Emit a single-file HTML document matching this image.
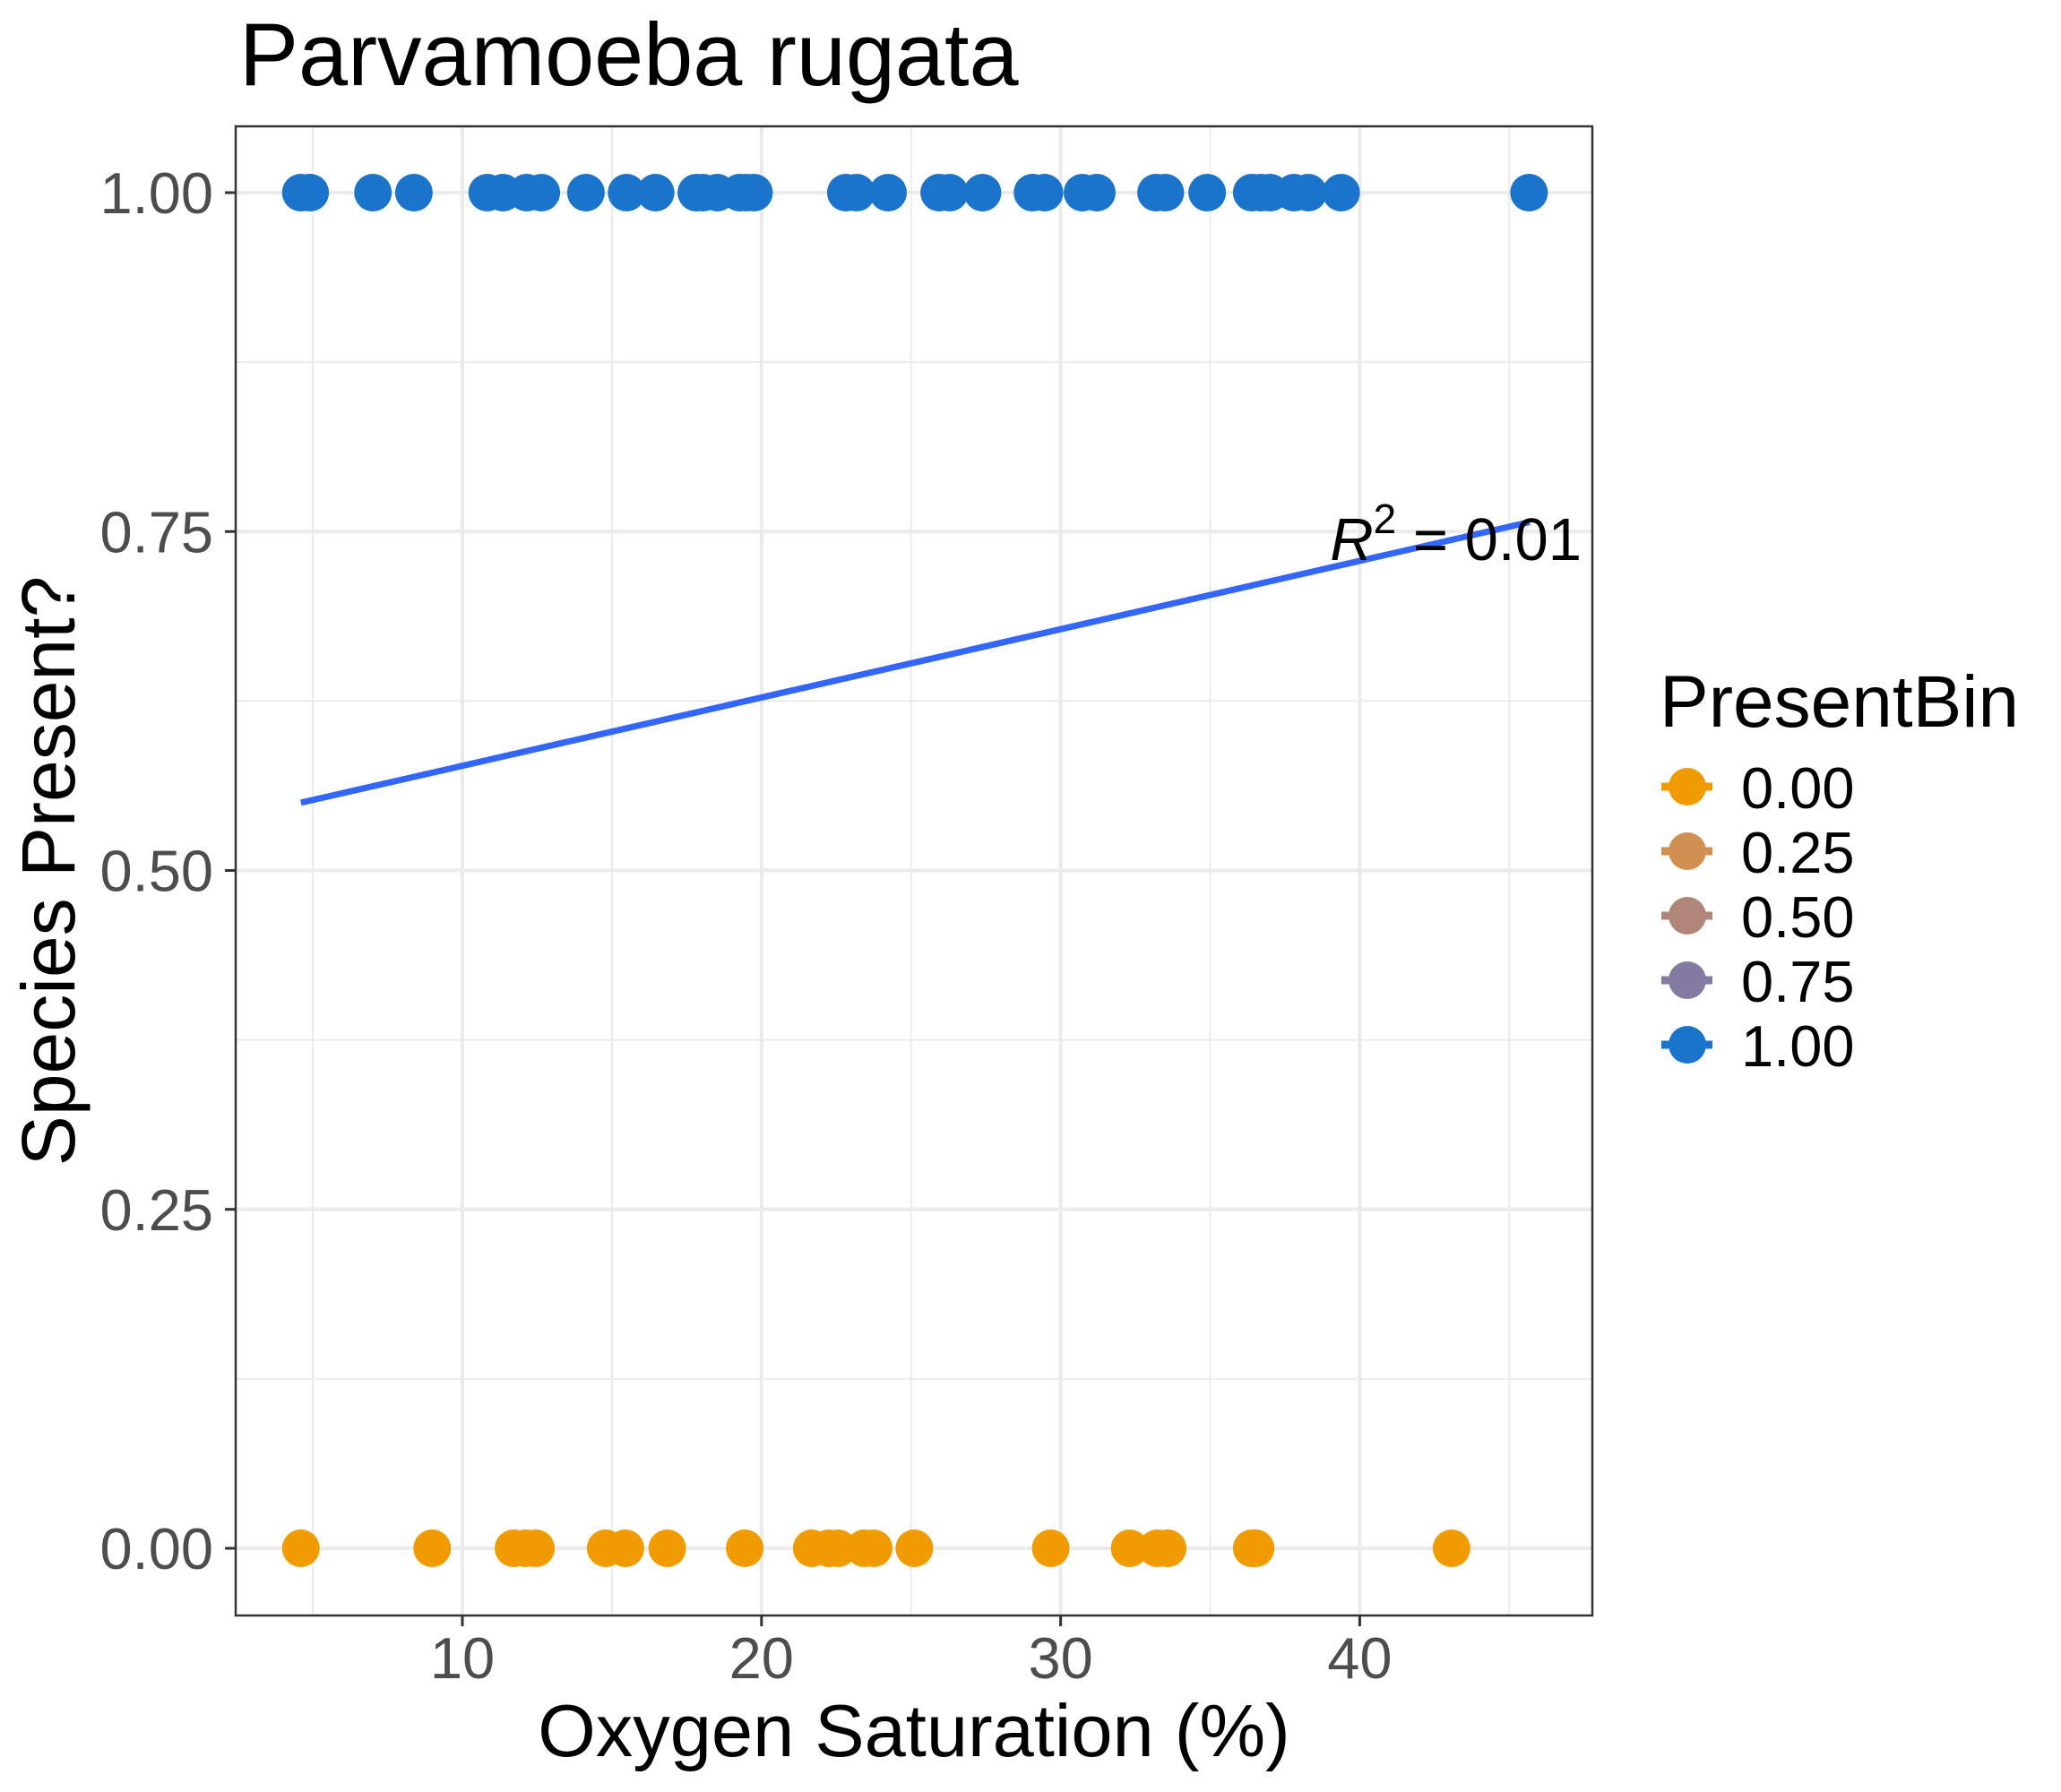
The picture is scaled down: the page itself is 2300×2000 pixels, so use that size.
<!DOCTYPE html>
<html><head><meta charset="utf-8"><style>
html,body{margin:0;padding:0;background:#fff;}
svg{display:block;font-family:"Liberation Sans",Arial,sans-serif;}
</style></head><body>
<svg id="chart" width="2300" height="2000" viewBox="0 0 2300 2000" xmlns="http://www.w3.org/2000/svg">
<rect x="0" y="0" width="2300" height="2000" fill="#fff"/>
<text x="267" y="95" font-size="99" fill="#000">Parvamoeba rugata</text>
<g id="grid"></g>
<g id="marks"></g>
<rect x="263" y="141" width="1514" height="1662" fill="none" stroke="#333" stroke-width="2.5"/>
<g id="axes"></g>
<text x="1020" y="1960" font-size="83" text-anchor="middle" fill="#000">Oxygen Saturation (%)</text>
<text transform="translate(83,972) rotate(-90)" font-size="84" text-anchor="middle" fill="#000">Species Present?</text>
<text x="1765" y="625" font-size="67" text-anchor="end" fill="#000"><tspan font-style="italic">R</tspan><tspan font-size="46" dy="-30">2</tspan><tspan dy="30"> = 0.01</tspan></text>
<g id="legend">
<text x="1852" y="811" font-size="82" fill="#000">PresentBin</text>
</g>
</svg>
<script>
const blueX = [4.60,4.91,7.01,8.38,10.83,11.36,12.15,12.64,14.13,15.49,16.46,17.82,18.04,18.52,19.27,19.49,19.75,22.82,23.18,24.23,25.94,26.29,27.39,29.06,29.46,30.73,31.21,33.19,33.50,34.90,36.39,36.70,37.01,37.80,38.28,39.38,45.66];
const orangeX = [4.60,8.99,11.71,12.11,12.46,14.79,15.45,16.85,19.44,21.68,22.25,22.56,23.44,23.75,25.11,29.67,32.31,33.23,33.58,36.39,36.52,43.07];
const fitX = [4.6,45.68];
const fitY = [0.55,0.757];
const xTicks = [10,20,30,40];
const xMinor = [5,15,25,35,45];
const yTicks = [0,0.25,0.5,0.75,1];
const yTickLabels = ["0.00","0.25","0.50","0.75","1.00"];
const yMinor = [0.125,0.375,0.625,0.875];
const legendLabels = ["0.00","0.25","0.50","0.75","1.00"];
const legendColors = ["#F09C00","#D18F52","#B0867A","#837BA1","#1A74CC"];

const NS="http://www.w3.org/2000/svg";
const L=263,R=1777,T=141,B=1803;
const xs=v=>516+(v-10)*33.38;
const ys=v=>1728-v*1513;
function mk(tag,attrs,parent){const e=document.createElementNS(NS,tag);for(const k in attrs)e.setAttribute(k,attrs[k]);parent.appendChild(e);return e;}
const grid=document.getElementById('grid'),marks=document.getElementById('marks'),axes=document.getElementById('axes'),legend=document.getElementById('legend');
xMinor.forEach(v=>{const e=mk('line',{x1:xs(v),x2:xs(v),y1:T,y2:B,stroke:'#EBEBEB','stroke-width':2},grid);

});
yMinor.forEach(v=>{const e=mk('line',{x1:L,x2:R,y1:ys(v),y2:ys(v),stroke:'#EBEBEB','stroke-width':2},grid);

});
xTicks.forEach(v=>{const e=mk('line',{x1:xs(v),x2:xs(v),y1:T,y2:B,stroke:'#EBEBEB','stroke-width':4},grid);


const t=mk('line',{x1:xs(v),x2:xs(v),y1:B,y2:B+12,stroke:'#333','stroke-width':3},axes);


const l=mk('text',{x:xs(v),y:1873,'font-size':65,'text-anchor':'middle',fill:'#4D4D4D'},axes);l.textContent=v;

});
yTicks.forEach((v,i)=>{const e=mk('line',{x1:L,x2:R,y1:ys(v),y2:ys(v),stroke:'#EBEBEB','stroke-width':4},grid);


const t=mk('line',{x1:L-12,x2:L,y1:ys(v),y2:ys(v),stroke:'#333','stroke-width':3},axes);


const l=mk('text',{x:238,y:ys(v)+23,'font-size':65,'text-anchor':'end',fill:'#4D4D4D'},axes);l.textContent=yTickLabels[i];

});
orangeX.forEach(v=>{const c=mk('circle',{cx:xs(v),cy:ys(0),r:21,fill:'#F09C00'},marks);

});
blueX.forEach(v=>{const c=mk('circle',{cx:xs(v),cy:ys(1),r:21,fill:'#1A74CC'},marks);

});
const fl=mk('line',{x1:xs(fitX[0]),y1:ys(fitY[0]),x2:xs(fitX[1]),y2:ys(fitY[1]),stroke:'#3366FF','stroke-width':7},marks);


legendLabels.forEach((lab,i)=>{const cy=878+i*72;
const g=mk('g',{},legend);


mk('line',{x1:1854,x2:1911,y1:cy,y2:cy,stroke:legendColors[i],'stroke-width':9},g);
mk('circle',{cx:1883,cy:cy,r:21,fill:legendColors[i]},g);
const t=mk('text',{x:1943,y:cy+24,'font-size':65,fill:'#000'},g);t.textContent=lab;});
</script>
</body></html>
